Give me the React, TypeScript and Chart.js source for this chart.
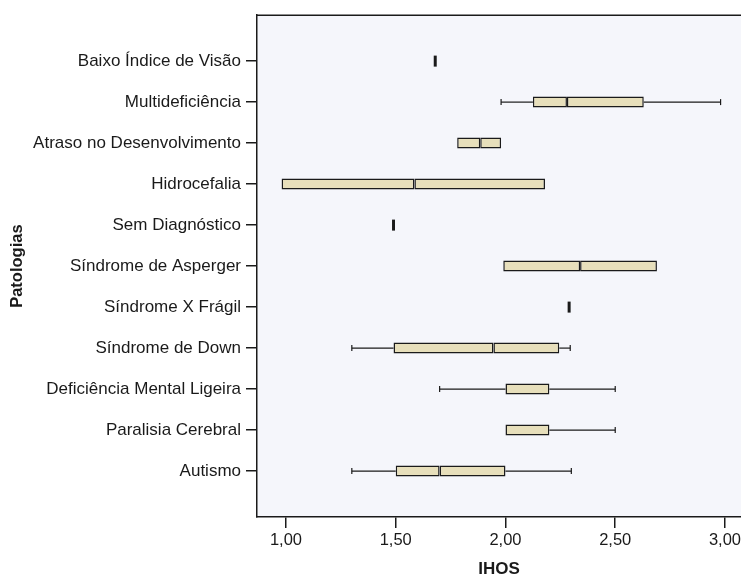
import React, { useEffect, useRef } from "react";
import { Chart, registerables } from "chart.js";

Chart.register(...registerables);

const categories = [
  "Baixo Índice de Visão",
  "Multideficiência",
  "Atraso no Desenvolvimento",
  "Hidrocefalia",
  "Sem Diagnóstico",
  "Síndrome de Asperger",
  "Síndrome X Frágil",
  "Síndrome de Down",
  "Deficiência Mental Ligeira",
  "Paralisia Cerebral",
  "Autismo",
];
const whiskerLow: (number | null)[] = [null, 1.98, null, null, null, null, null, 1.3, 1.7, null, 1.3];
const q1: number[] = [1.68, 2.125, 1.78, 0.98, 1.49, 1.99, 2.29, 1.49, 2.0, 2.0, 1.5];
const median: number[] = [1.68, 2.28, 1.885, 1.585, 1.49, 2.34, 2.29, 1.945, 2.0, 2.0, 1.7];
const q3: number[] = [1.68, 2.63, 1.98, 2.18, 1.49, 2.69, 2.29, 2.245, 2.2, 2.2, 2.0];
const whiskerHigh: (number | null)[] = [null, 2.98, null, null, null, null, null, 2.295, 2.5, 2.5, 2.3];
const xTickValues = [1.0, 1.5, 2.0, 2.5, 3.0];
const xTickLabels = ["1,00", "1,50", "2,00", "2,50", "3,00"];

const FONT = "'Liberation Sans', Arial, Helvetica, sans-serif";
const BOX_FILL = "#e7dfbb";
const PLOT_BG = "#f5f6fb";
const INK = "#1a1a1a";
const BOX_H = 11;

const boxPlugin = {
  id: "boxExtras",
  beforeDraw(chart: any) {
    const { ctx, chartArea: a } = chart;
    ctx.save();
    ctx.fillStyle = "#ffffff";
    ctx.fillRect(0, 0, chart.width, chart.height);
    ctx.fillStyle = PLOT_BG;
    ctx.fillRect(a.left, a.top, a.right - a.left, a.bottom - a.top);
    ctx.restore();
  },
  beforeDatasetsDraw(chart: any) {
    const { ctx } = chart;
    const xs = chart.scales.x;
    const ys = chart.scales.y;
    ctx.save();
    ctx.strokeStyle = INK;
    ctx.lineWidth = 1.2;
    categories.forEach((_, i) => {
      const y = ys.getPixelForValue(i);
      const segs: [number | null, number][] = [
        [whiskerLow[i], q1[i]],
        [whiskerHigh[i], q3[i]],
      ];
      segs.forEach(([w, edge]) => {
        if (w === null) return;
        const xw = xs.getPixelForValue(w);
        const xe = xs.getPixelForValue(edge);
        ctx.beginPath();
        ctx.moveTo(xw, y);
        ctx.lineTo(xe, y);
        ctx.stroke();
        ctx.beginPath();
        ctx.moveTo(xw, y - 3);
        ctx.lineTo(xw, y + 3);
        ctx.stroke();
      });
    });
    ctx.restore();
  },
  afterDatasetsDraw(chart: any) {
    const { ctx, chartArea: a } = chart;
    const xs = chart.scales.x;
    const ys = chart.scales.y;
    ctx.save();
    ctx.strokeStyle = INK;
    ctx.lineWidth = 3;
    categories.forEach((_, i) => {
      if (q1[i] === q3[i]) {
        const x = xs.getPixelForValue(q1[i]);
        const y = ys.getPixelForValue(i);
        ctx.beginPath();
        ctx.moveTo(x, y - BOX_H / 2);
        ctx.lineTo(x, y + BOX_H / 2);
        ctx.stroke();
      }
    });
    ctx.lineWidth = 1.5;
    ctx.beginPath();
    ctx.moveTo(a.left, a.top);
    ctx.lineTo(a.right, a.top);
    ctx.stroke();
    ctx.restore();
  },
};

export default function App() {
  const ref = useRef<HTMLCanvasElement | null>(null);

  useEffect(() => {
    document.body.style.margin = "0";
    if (!ref.current) return;
    const boxes = (lo: number[], hi: number[]) =>
      categories.map((_, i) => ({ x: [lo[i], hi[i]], y: i }));

    const common = {
      backgroundColor: BOX_FILL,
      borderColor: INK,
      borderWidth: 1.5,
      borderSkipped: false,
      maxBarThickness: BOX_H,
      barPercentage: 0.9,
      categoryPercentage: 1,
      grouped: false,
    };

    const chart = new Chart(ref.current, {
      type: "bar",
      data: {
        datasets: [
          { label: "Q1-Mediana", data: boxes(q1, median) as any, ...common },
          { label: "Mediana-Q3", data: boxes(median, q3) as any, ...common },
        ],
      },
      options: {
        indexAxis: "y",
        animation: false,
        responsive: false,
        maintainAspectRatio: false,
        layout: { padding: { top: 14, right: 0, left: 0, bottom: 0 } },
        plugins: {
          legend: { display: false },
          tooltip: { enabled: false },
        },
        scales: {
          x: {
            type: "linear",
            min: 0.868,
            max: 3.073,
            offset: false,
            grid: {
              display: true,
              offset: false,
              drawOnChartArea: false,
              drawTicks: true,
              tickLength: 11,
              color: INK,
              lineWidth: 1.5,
            },
            border: { display: true, color: INK, width: 1.5 },
            afterBuildTicks: (scale: any) => {
              scale.ticks = xTickValues.map((v) => ({ value: v }));
            },
            afterFit: (scale: any) => {
              scale.height = 63;
              scale.paddingLeft = 0;
              scale.paddingRight = 0;
            },
            ticks: {
              includeBounds: false,
              padding: 3,
              color: INK,
              font: { family: FONT, size: 16.5 },
              maxRotation: 0,
              callback: (v: any) => {
                const k = xTickValues.indexOf(Number(v));
                return k >= 0 ? xTickLabels[k] : "";
              },
            },
            title: {
              display: true,
              text: "IHOS",
              color: INK,
              font: { family: FONT, size: 17, weight: "bold" },
              padding: { top: 0, bottom: 0 },
            },
          },
          y: {
            type: "linear",
            reverse: true,
            min: -1.12,
            max: 11.12,
            offset: false,
            grid: {
              display: true,
              offset: false,
              drawOnChartArea: false,
              drawTicks: true,
              tickLength: 11,
              color: INK,
              lineWidth: 1.5,
            },
            border: { display: true, color: INK, width: 1.5 },
            afterBuildTicks: (scale: any) => {
              scale.ticks = categories.map((_, i) => ({ value: i }));
            },
            afterFit: (scale: any) => {
              scale.width = 257;
            },
            ticks: {
              includeBounds: false,
              padding: 5,
              color: INK,
              font: { family: FONT, size: 17 },
              callback: (v: any) => categories[Number(v)] ?? "",
            },
            title: {
              display: true,
              text: "Patologias",
              color: INK,
              font: { family: FONT, size: 16.5, weight: "bold" },
              padding: { top: 8, bottom: 0 },
            },
          },
        },
      },
      plugins: [boxPlugin],
    } as any);
    return () => chart.destroy();
  }, []);

  return (
    <div style={{ width: 741, height: 580 }}>
      <canvas ref={ref} width={741} height={580} style={{ display: "block" }} />
    </div>
  );
}
